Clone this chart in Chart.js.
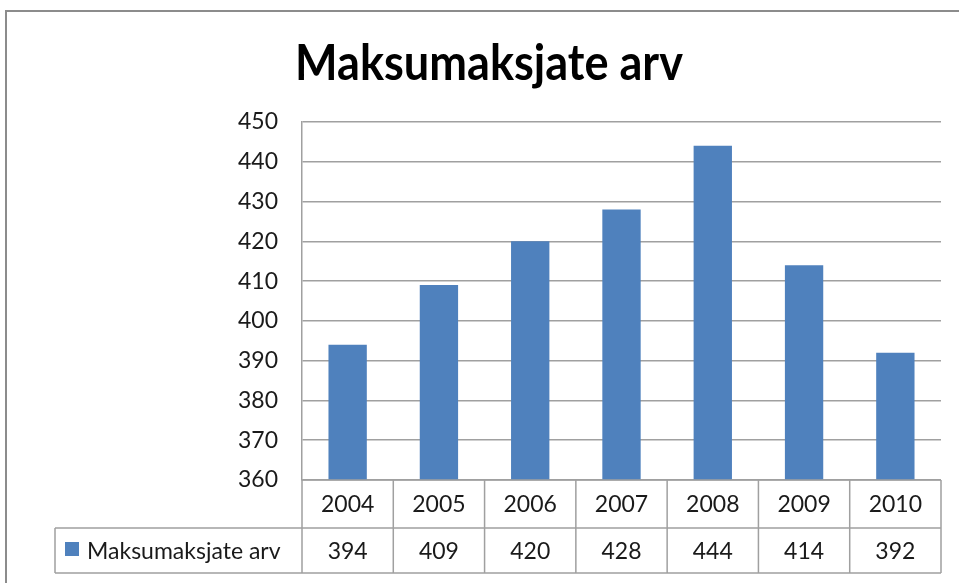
<!DOCTYPE html>
<html>
<head>
<meta charset="utf-8">
<script src="https://cdn.jsdelivr.net/npm/chart.js@4.4.1/dist/chart.umd.min.js"></script>
<style>
html,body{margin:0;padding:0;background:#fff;}
#wrap{width:959px;height:583px;position:relative;}
</style>
</head>
<body>
<div id="wrap"><canvas id="c" width="959" height="583"></canvas></div>
<script>
const categories = ["2004", "2005", "2006", "2007", "2008", "2009", "2010"];
const seriesName = "Maksumaksjate arv";
const values = [394, 409, 420, 428, 444, 414, 392];
const chartTitle = "Maksumaksjate arv";
const yMin = 360, yMax = 450, yStep = 10;

const barColor = "#4F81BD";
const lineColor = "#A0A0A0";
const textColor = "#1a1a1a";
const fontFamily = "Lato, 'Open Sans', sans-serif";

const frameAndTable = {
  id: "frameAndTable",
  afterDraw(chart) {
    const ctx = chart.ctx;
    const x = chart.scales.x;
    const area = chart.chartArea;
    const n = categories.length;
    const cw = x.getPixelForValue(1) - x.getPixelForValue(0);
    const left = x.getPixelForValue(0) - cw / 2;
    const right = left + cw * n;
    const top = area.bottom;
    const row1 = top + 48;
    const row2 = row1 + 45;
    const tableLeft = 55;
    ctx.save();
    // outer frame
    ctx.strokeStyle = "#8c8c8c";
    ctx.lineWidth = 2;
    ctx.beginPath();
    ctx.moveTo(6, 583);
    ctx.lineTo(6, 11);
    ctx.lineTo(959, 11);
    ctx.stroke();

    // title (condensed like the original)
    ctx.save();
    ctx.font = "bold 50px " + fontFamily;
    ctx.fillStyle = "#000";
    ctx.textBaseline = "alphabetic";
    ctx.textAlign = "center";
    const tw = ctx.measureText(chartTitle).width;
    const sx = 388 / tw;
    ctx.translate(489, 80);
    ctx.scale(sx, 1);
    ctx.fillText(chartTitle, 0, 0);
    ctx.restore();

    ctx.strokeStyle = lineColor;
    ctx.lineWidth = 1.5;
    ctx.beginPath();
    ctx.moveTo(left, top); ctx.lineTo(right, top);
    ctx.moveTo(tableLeft, row1); ctx.lineTo(right, row1);
    ctx.moveTo(tableLeft, row2); ctx.lineTo(right, row2);
    ctx.moveTo(tableLeft, row1); ctx.lineTo(tableLeft, row2);
    for (let i = 0; i <= n; i++) {
      const xb = left + i * cw;
      ctx.moveTo(xb, top); ctx.lineTo(xb, row2);
    }
    ctx.stroke();

    ctx.fillStyle = textColor;
    ctx.font = "23px " + fontFamily;
    ctx.textAlign = "center";
    ctx.textBaseline = "middle";
    for (let i = 0; i < n; i++) {
      const cx = x.getPixelForValue(i);
      ctx.fillText(categories[i], cx, (top + row1) / 2 + 1);
      ctx.fillText(String(values[i]), cx, (row1 + row2) / 2 + 1);
    }
    ctx.fillStyle = barColor;
    ctx.fillRect(65, 542, 14, 14);
    ctx.fillStyle = textColor;
    ctx.textAlign = "left";
    ctx.fillText(seriesName, 87, (row1 + row2) / 2 + 1);
    ctx.restore();
  }
};

new Chart(document.getElementById("c"), {
  type: "bar",
  data: {
    labels: categories,
    datasets: [{
      label: seriesName,
      data: values,
      backgroundColor: barColor,
      borderWidth: 0,
      categoryPercentage: 1.0,
      barPercentage: 0.42
    }]
  },
  options: {
    responsive: false,
    animation: false,
    devicePixelRatio: 1,
    layout: { padding: { left: 0, right: 18, top: 122, bottom: 0 } },
    plugins: {
      legend: { display: false },
      tooltip: { enabled: false },
      title: { display: false }
    },
    scales: {
      x: {
        display: true,
        grid: { display: false },
        border: { display: false },
        ticks: { display: false },
        afterFit(s) { s.height = 103; }
      },
      y: {
        min: yMin,
        max: yMax,
        ticks: {
          stepSize: yStep,
          color: textColor,
          font: { family: fontFamily, size: 23 },
          padding: 24
        },
        grid: { color: lineColor, lineWidth: 1.5, drawTicks: false },
        border: { display: true, color: lineColor, width: 1.5 },
        afterFit(s) { s.width = 302; }
      }
    }
  },
  plugins: [frameAndTable]
});
</script>
</body>
</html>
